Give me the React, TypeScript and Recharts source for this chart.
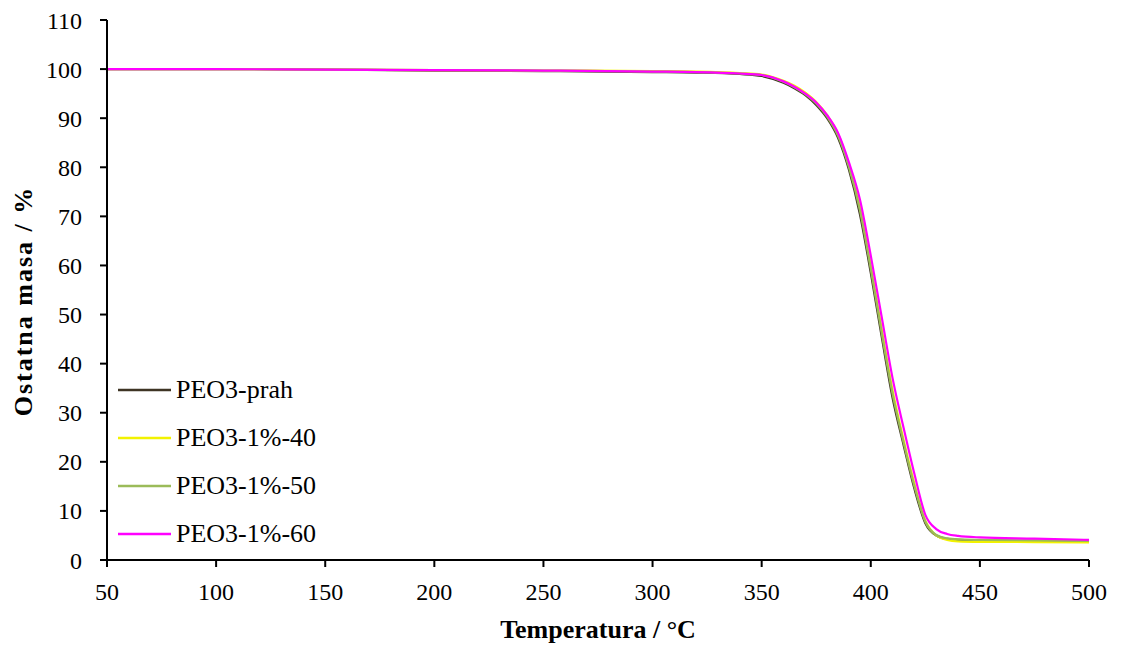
import React from "react";
import { LineChart, Line, XAxis, YAxis, Legend } from "recharts";

const temperatures = [50, 100, 150, 200, 250, 300, 320, 340, 350, 360, 365, 370, 375, 380, 385, 390, 395, 400, 405, 410, 415, 420, 425, 430, 435, 440, 450, 475, 500];
const prah = [100.0, 100.0, 99.9, 99.7, 99.6, 99.4, 99.3, 99.0, 98.6, 97.2, 96.1, 94.7, 92.7, 90.0, 86.0, 79.5, 70.5, 58.5, 45.5, 33.0, 23.5, 14.5, 7.5, 5.0, 4.3, 4.1, 4.0, 3.9, 3.8];
const p40 = [100.0, 100.0, 99.9, 99.8, 99.7, 99.6, 99.5, 99.2, 98.9, 97.6, 96.6, 95.2, 93.3, 90.6, 86.8, 80.5, 72.0, 60.0, 47.0, 34.5, 24.5, 15.5, 8.0, 5.0, 4.1, 3.8, 3.7, 3.65, 3.6];
const p50 = [100.0, 100.0, 99.9, 99.8, 99.7, 99.5, 99.4, 99.1, 98.8, 97.4, 96.3, 94.9, 93.0, 90.3, 86.4, 80.0, 71.3, 59.3, 46.3, 33.8, 24.0, 15.0, 7.8, 5.1, 4.4, 4.2, 4.1, 4.0, 3.9];
const p60 = [100.0, 100.0, 99.9, 99.8, 99.7, 99.5, 99.4, 99.1, 98.8, 97.5, 96.4, 95.0, 93.2, 90.6, 87.0, 81.0, 73.5, 62.0, 49.5, 37.0, 27.0, 17.5, 9.2, 6.3, 5.3, 4.9, 4.6, 4.35, 4.1];

const xTicks = [50, 100, 150, 200, 250, 300, 350, 400, 450, 500];
const yTicks = [0, 10, 20, 30, 40, 50, 60, 70, 80, 90, 100, 110];

const series = [
  { key: "prah", name: "PEO3-prah", color: "#3E3424" },
  { key: "p40", name: "PEO3-1%-40", color: "#F2F200" },
  { key: "p50", name: "PEO3-1%-50", color: "#9BBB59" },
  { key: "p60", name: "PEO3-1%-60", color: "#FF00FF" },
];

const data = temperatures.map((t, i) => ({
  t,
  prah: prah[i],
  p40: p40[i],
  p50: p50[i],
  p60: p60[i],
}));

const FONT = "'Liberation Serif', 'Times New Roman', serif";

const LegendContent = () => (
  <div style={{ fontFamily: FONT, fontSize: 26, color: "#000" }}>
    {series.map((s) => (
      <div key={s.key} style={{ display: "flex", alignItems: "center", height: 48 }}>
        <svg width={58} height={6} style={{ display: "block" }}>
          <line x1={0} y1={3} x2={53} y2={3} stroke={s.color} strokeWidth={2.5} />
        </svg>
        <span style={{ lineHeight: "26px" }}>{s.name}</span>
      </div>
    ))}
  </div>
);

const YTitle = (props: any) => {
  const vb = props.viewBox || { x: 0, y: 0, width: 0, height: 0 };
  const cx = 23;
  const cy = vb.y + vb.height / 2 + 11;
  return (
    <text
      x={cx}
      y={cy}
      transform={`rotate(-90, ${cx}, ${cy})`}
      textAnchor="middle"
      dominantBaseline="central"
      fill="#000"
      fontSize={26}
      fontWeight="bold"
      letterSpacing={2}
      fontFamily={FONT}
    >
      Ostatna masa / %
    </text>
  );
};

export default function App() {
  return (
    <div style={{ position: "absolute", left: 0, top: 0, background: "#fff" }}>
      <LineChart
        width={1121}
        height={650}
        data={data}
        margin={{ top: 20, right: 32, left: 0, bottom: 0 }}
      >
        <XAxis
          dataKey="t"
          type="number"
          domain={[50, 500]}
          ticks={xTicks}
          height={90}
          tickSize={7}
          tickMargin={16}
          axisLine={{ stroke: "#000", strokeWidth: 2 }}
          tickLine={{ stroke: "#000", strokeWidth: 2 }}
          tick={{ fill: "#000", fontSize: 24, fontFamily: FONT }}
          label={{
            value: "Temperatura / °C",
            position: "insideBottom",
            offset: 12,
            fill: "#000",
            fontSize: 26,
            fontWeight: "bold",
            fontFamily: FONT,
          }}
        />
        <YAxis
          type="number"
          domain={[0, 110]}
          ticks={yTicks}
          width={107}
          tickSize={7}
          tickMargin={18}
          axisLine={{ stroke: "#000", strokeWidth: 2 }}
          tickLine={{ stroke: "#000", strokeWidth: 2 }}
          tick={{ fill: "#000", fontSize: 24, fontFamily: FONT }}
          label={<YTitle />}
        />
        <Legend
          layout="vertical"
          align="center"
          verticalAlign="middle"
          content={<LegendContent />}
          wrapperStyle={{ left: 118, top: 366, width: 260 }}
        />
        {series.map((s) => (
          <Line
            key={s.key}
            dataKey={s.key}
            name={s.name}
            type="monotone"
            stroke={s.color}
            strokeWidth={2.2}
            dot={false}
            activeDot={false}
            isAnimationActive={false}
          />
        ))}
      </LineChart>
    </div>
  );
}
